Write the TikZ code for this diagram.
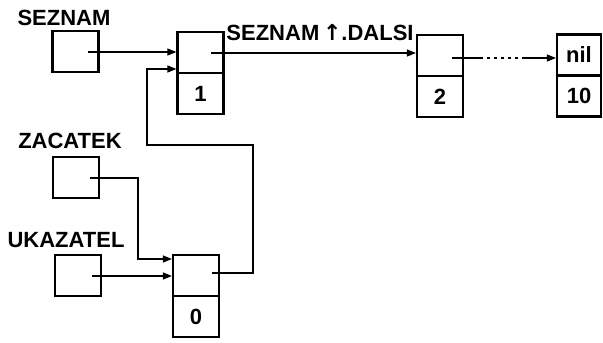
\documentclass[tikz,border=0pt]{standalone}
\usepackage{fontspec}
\setmainfont{Liberation Sans}
\newfontfamily\symfont{DejaVu Sans}
\usetikzlibrary{arrows.meta,calc}

\begin{document}
\begin{tikzpicture}[
 x=0.5pt,y=-0.5pt,
 font=\fontsize{11}{13}\selectfont\bfseries,
 cell/.style={draw,line width=1.1pt,minimum width=23pt,minimum height=20.5pt,inner sep=0pt},
 lbl/.style={inner sep=0pt},
 arr/.style={-{Triangle[length=4.5pt,width=3.5pt]},line width=0.6pt}]
\useasboundingbox (0,0) rectangle (603,342);
% pointer variables
\node[lbl] (lseznam) at (64,17.5) {SEZNAM};
\node[cell] (vseznam) at (75.5,51.5) {};
\node[lbl] (lzac) at (70,141) {ZACATEK};
\node[cell] (vzac) at (76,177.5) {};
\node[lbl] (lukaz) at (66,240.5) {UKAZATEL};
\node[cell] (vukaz) at (78,275.5) {};
% list items
\node[cell] (c1p) at (200.5,52.5) {};
\node[cell] (c1v) at (200.5,93.5) {1};
\node[cell] (c2p) at (440,55.5) {};
\node[cell] (c2v) at (440,96.5) {2};
\node[cell,minimum width=22pt] (c3p) at (579,55) {nil};
\node[cell,minimum width=22pt] (c3v) at (579,96) {10};
\node[cell] (c0p) at (196,275.5) {};
\node[cell] (c0v) at (196,316.5) {0};
\node[lbl] (ldalsi) at (320,32.5) {SEZNAM\,{\symfont\bfseries↑}.DALSI};
% pointer starts
\coordinate (pseznam) at ($(vseznam.center)+(12.5,0.5)$);
\coordinate (pzac) at ($(vzac.center)+(14,0.5)$);
\coordinate (pukaz) at ($(vukaz.center)+(14,0.5)$);
\coordinate (p1) at ($(c1p.center)+(10.5,0.5)$);
\coordinate (p2) at ($(c2p.center)+(12,2.5)$);
\coordinate (p0) at ($(c0p.center)+(16,-2.5)$);
\coordinate (in1) at ($(c1p.west)+(0,16.5)$);
\coordinate (in0) at ($(c0p.west)+(0,-16.5)$);
% connectors
\draw[arr] (pseznam) -- (pseznam -| c1p.west);
\draw[arr] (p0) -| (253,145) -| (147,69) -- (in1);
\draw[arr] (p1) -- (p1 -| c2p.west);
\draw[line width=0.6pt] (p2) -- (480,58);
\draw[line width=0.6pt,dash pattern=on 1.5pt off 2pt] (480,58) -- (522,58);
\draw[arr] (522,58) -- (p2 -| c3p.west);
\draw[arr] (pzac) -| (138,259) -- (in0);
\draw[arr] (pukaz) -- (pukaz -| c0p.west);
\end{tikzpicture}
\end{document}
